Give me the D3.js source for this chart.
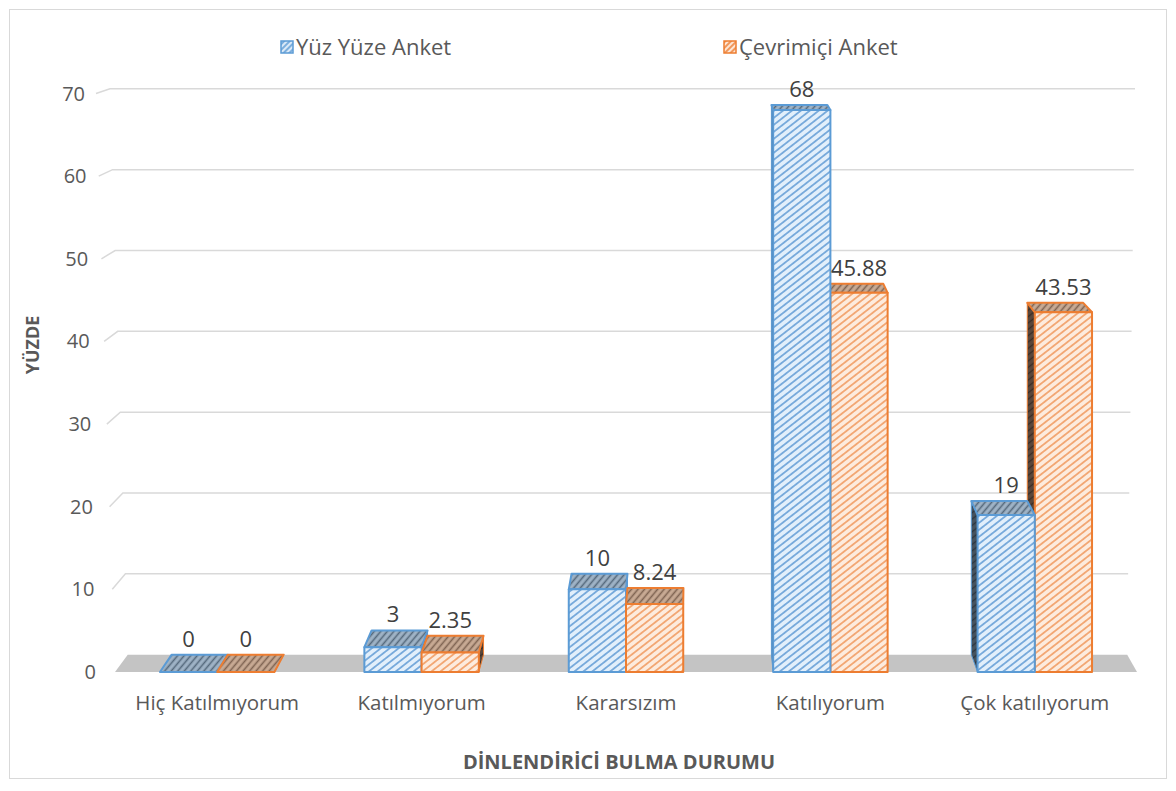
<!DOCTYPE html>
<html>
<head>
<meta charset="utf-8">
<script src="https://cdn.jsdelivr.net/npm/d3@7"></script>
<style>
  html,body{margin:0;padding:0;background:#fff;}
  svg{display:block;}
  text{font-family:"Open Sans","Noto Sans",sans-serif;}
</style>
</head>
<body>
<svg id="chart" width="1176" height="791"></svg>
<script>
const categories = ["Hiç Katılmıyorum","Katılmıyorum","Kararsızım","Katılıyorum","Çok katılıyorum"];
const seriesNames = ["Yüz Yüze Anket","Çevrimiçi Anket"];
const yuzYuze = [0,3,10,68,19];
const cevrimici = [0,2.35,8.24,45.88,43.53];
const yTicks = [0,10,20,30,40,50,60,70];
const valueLabelsYY = ["0","3","10","68","19"];
const valueLabelsCA = ["0","2.35","8.24","45.88","43.53"];

const svg = d3.select("#chart");

// chart border
svg.append("rect").attr("x",9.5).attr("y",9.5).attr("width",1157).attr("height",769)
  .attr("fill","#fff").attr("stroke","#d9d9d9").attr("stroke-width",1);

// perspective parameters
const VX = 693, VY = -117, DEPTH = 0.022;
function P(x,y,z){ return [x + (VX - x)*DEPTH*z, y + (VY - y)*DEPTH*z]; }

const x0 = d3.scaleBand().domain(categories).range([115,1137]).paddingInner(0.44).paddingOuter(0.22);
const x1 = d3.scaleBand().domain(seriesNames).range([0, x0.bandwidth()]).padding(0);
const y = d3.scaleLinear().domain([0,70]).range([672, 93.5]);

// patterns
const defs = svg.append("defs");
function pattern(id, bg, fg, sw, size, rot){
  const p = defs.append("pattern").attr("id",id).attr("patternUnits","userSpaceOnUse")
    .attr("width",size).attr("height",size).attr("patternTransform",`rotate(${rot})`);
  p.append("rect").attr("width",size).attr("height",size).attr("fill",bg);
  p.append("line").attr("x1",size/2).attr("y1",0).attr("x2",size/2).attr("y2",size)
    .attr("stroke",fg).attr("stroke-width",sw);
}
pattern("bFront","#e2effb","#76a9db",1.8,5.5,52);
pattern("oFront","#fdebdd","#f2a672",1.8,5.5,52);
pattern("bTop","#9fb3c6","#55697c",1.6,5,40);
pattern("oTop","#c8aa94","#7e6352",1.6,5,40);
pattern("bSide","#46535f","#2c363f",1.4,5,52);
pattern("oSide","#5a473b","#3a2d25",1.4,5,52);
pattern("bLeg","#dbe9f7","#5b9bd5",1.5,4,45);
pattern("oLeg","#fde6d5","#ed7d31",1.5,4,45);

const styles = [
  {stroke:"#5b9bd5", front:"url(#bFront)", top:"url(#bTop)", side:"url(#bSide)", leg:"url(#bLeg)"},
  {stroke:"#ed7d31", front:"url(#oFront)", top:"url(#oTop)", side:"url(#oSide)", leg:"url(#oLeg)"}
];

// gridlines (side wall + back wall)
const gGrid = svg.append("g");
yTicks.forEach(v => {
  if (v === 0) return;
  const yf = y(v);
  const yb = P(0, yf, 1)[1];
  const xFrontL = 115 - v*(19/70);
  const xBackL = 128 - v*(18/70);
  const xBackR = 1127 + v*(8/70);
  gGrid.append("path")
    .attr("d", `M${xFrontL},${yf} L${xBackL},${yb} L${xBackR},${yb}`)
    .attr("fill","none").attr("stroke","#d9d9d9").attr("stroke-width",1.5);
});

// floor
const floorPts = [P(115,672,0),P(1137,672,0),P(1137,672,1),P(115,672,1)];
svg.append("polygon").attr("points", floorPts.map(p=>p.join(",")).join(" "))
  .attr("fill","#c4c4c4");

// y tick labels
svg.append("g").selectAll("text").data(yTicks).join("text")
  .attr("x", v => 96 - v*(11/70))
  .attr("y", v => y(v))
  .attr("dy","0.35em")
  .attr("text-anchor","end")
  .attr("font-size",20)
  .attr("fill","#595959")
  .text(d => d);

// bars
const bars = [];
categories.forEach((c,i) => {
  [yuzYuze[i], cevrimici[i]].forEach((v,s) => {
    const xl = x0(c) + x1(seriesNames[s]);
    const xr = xl + x1.bandwidth();
    bars.push({c, s, v, xl, xr, label: s===0 ? valueLabelsYY[i] : valueLabelsCA[i]});
  });
});
bars.sort((a,b) => Math.abs((b.xl+b.xr)/2 - VX) - Math.abs((a.xl+a.xr)/2 - VX));

const gBars = svg.append("g");
const poly = pts => pts.map(p=>p.join(",")).join(" ");
bars.forEach(b => {
  const st = styles[b.s];
  const y0 = y(0), yt = y(b.v);
  const g = gBars.append("g");
  if (b.xl > VX) {
    g.append("polygon").attr("points", poly([P(b.xl,y0,0),P(b.xl,yt,0),P(b.xl,yt,1),P(b.xl,y0,1)]))
      .attr("fill", st.side).attr("stroke", st.stroke).attr("stroke-width",1).attr("stroke-linejoin","round");
  } else if (b.xr < VX) {
    g.append("polygon").attr("points", poly([P(b.xr,y0,0),P(b.xr,yt,0),P(b.xr,yt,1),P(b.xr,y0,1)]))
      .attr("fill", st.side).attr("stroke", st.stroke).attr("stroke-width",1).attr("stroke-linejoin","round");
  }
  g.append("polygon").attr("points", poly([P(b.xl,yt,0),P(b.xr,yt,0),P(b.xr,yt,1),P(b.xl,yt,1)]))
    .attr("fill", st.top).attr("stroke", st.stroke).attr("stroke-width",2).attr("stroke-linejoin","round");
  if (b.v > 0) {
    g.append("polygon").attr("points", poly([[b.xl,y0],[b.xr,y0],[b.xr,yt],[b.xl,yt]]))
      .attr("fill", st.front).attr("stroke", st.stroke).attr("stroke-width",2).attr("stroke-linejoin","round");
  }
});

// data labels
const gLab = svg.append("g");
bars.forEach(b => {
  const cx = (b.xl + b.xr)/2;
  const yb = P(cx, y(b.v), 1)[1];
  gLab.append("text").attr("x", cx).attr("y", yb - 8)
    .attr("text-anchor","middle").attr("font-size",22).attr("fill","#404040")
    .text(b.label);
});

// category labels
svg.append("g").selectAll("text").data(categories).join("text")
  .attr("x", c => x0(c) + x0.bandwidth()/2)
  .attr("y", 703)
  .attr("dy","0.35em")
  .attr("text-anchor","middle")
  .attr("font-size",20.5)
  .attr("fill","#595959")
  .text(d => d);

// axis titles
svg.append("text").attr("x",619).attr("y",762).attr("dy","0.35em").attr("text-anchor","middle")
  .attr("font-size",20).attr("font-weight","bold").attr("fill","#595959")
  .text("DİNLENDİRİCİ BULMA DURUMU");
svg.append("text").attr("transform","translate(33,345) rotate(-90)").attr("dy","0.35em").attr("text-anchor","middle")
  .attr("font-size",18).attr("font-weight","bold").attr("fill","#595959")
  .text("YÜZDE");

// legend
const legendX = [281, 724];
const gLeg = svg.append("g");
seriesNames.forEach((n,i) => {
  gLeg.append("rect").attr("x",legendX[i]).attr("y",41).attr("width",12).attr("height",12)
    .attr("fill", styles[i].leg).attr("stroke", styles[i].stroke).attr("stroke-width",1.5);
  gLeg.append("text").attr("x",legendX[i]+15).attr("y",47).attr("dy","0.35em")
    .attr("font-size",22).attr("fill","#595959").text(n);
});
</script>
</body>
</html>
